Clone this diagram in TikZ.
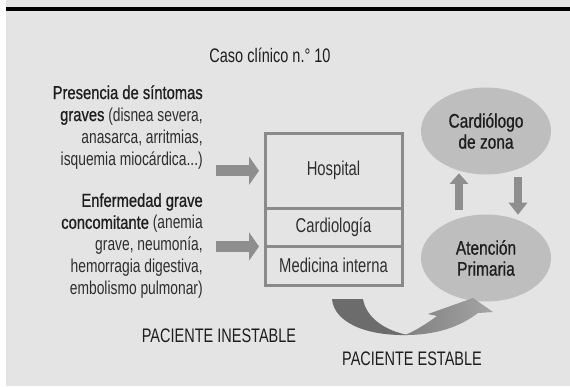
\documentclass[tikz,border=0pt]{standalone}
\usepackage{fontspec}
\setmainfont{Liberation Sans}[FakeStretch=0.74]
\newfontfamily\medfont{Liberation Sans}[FakeStretch=0.79,FakeBold=0.8]
\usepackage{tikz}
\usetikzlibrary{calc,arrows.meta,positioning,shapes.geometric}
\definecolor{bggray}{HTML}{E4E4E4}
\definecolor{linegray}{HTML}{8A8A8A}
\definecolor{ovalgray}{HTML}{BEBEBE}
\definecolor{arrowgray}{HTML}{8E8E8E}
\definecolor{tailgray}{HTML}{6C6C6C}
\definecolor{inkgray}{HTML}{1E1E1E}
\definecolor{softink}{HTML}{2E2E2E}
\tikzstyle{box node}=[draw=linegray,line width=2.25pt,outer sep=0pt,inner sep=0pt,minimum width=102.75pt,text=softink,font=\fontsize{15pt}{18pt}\selectfont]
\tikzstyle{oval node}=[ellipse,fill=ovalgray,inner sep=0pt,minimum width=97.5pt,minimum height=65.25pt,align=center,text=inkgray,font=\medfont\fontsize{14.7pt}{15.75pt}\selectfont]
\tikzstyle{side text}=[anchor=north east,align=right,inner sep=0pt,text=softink,font=\fontsize{14pt}{16.5pt}\selectfont]
\tikzstyle{label text}=[text=inkgray,font=\fontsize{14.7pt}{17pt}\selectfont]
\tikzstyle{block arrow}=[draw=arrowgray,line width=8.25pt,-{Triangle[length=7.5pt,width=21pt]}]
\tikzstyle{thin arrow}=[draw=arrowgray,line width=6pt,-{Triangle[length=8pt,width=13.5pt]}]

\begin{document}
\begin{tikzpicture}[x=0.75pt,y=-0.75pt]

		\fill[bggray] (0,0) rectangle (570,386);
		\fill[white] (0,0) rectangle (6,386);
		\useasboundingbox (0,0) rectangle (570,386);
		\draw[line width=2.6pt] (6,9) -- (570,9);

		\node(caso)[label text] at (270,55) {Caso clínico n.° 10};

		% boxes on the left of the ovals
		\node(hosp)[box node,minimum height=56.6pt] at (333.5,170.75) {Hospital};
		\node(cardio)[box node,minimum height=28.5pt,below=0pt of hosp] {Cardiología};
		\node(medint)[box node,minimum height=28.9pt,below=0pt of cardio] {Medicina interna};

		\node(cardz)[oval node] at (486,131) {Cardiólogo\\de zona};
		\node(prim)[oval node] at (486,258) {Atención\\Primaria};

		\node(sint)[side text] at (203,85) {{\color{inkgray}\medfont Presencia de síntomas}\\{\color{inkgray}\medfont graves} (disnea severa,\\anasarca, arritmias,\\isquemia miocárdica...)};
		\node(enf)[side text] at (203,193) {{\color{inkgray}\medfont Enfermedad grave}\\{\color{inkgray}\medfont concomitante} (anemia\\grave, neumonía,\\hemorragia digestiva,\\embolismo pulmonar)};

		\draw[block arrow] ($(sint.east |- hosp.west)+(13,0)$) -- ($(hosp.west)+(-6,0)$);
		\draw[block arrow] ($(enf.east |- medint.north west)+(13,0)$) -- ($(medint.north west)+(-6,0)$);

		\draw[thin arrow] ($(prim.north)+(-27,-4.5)$) -- ($(cardz.south)+(-27,-1.5)$);
		\draw[thin arrow,-{Triangle[length=9pt,width=13.5pt]}] ($(cardz.south)+(32,2.5)$) -- ($(prim.north)+(32,0.5)$);

		% curved arrow from the boxes to primaria
		\fill[tailgray] (332,299) .. controls (334,322) and (365,336) .. (408,335) .. controls (386,331) and (366,318) .. (363,299) -- cycle;
		\shade[left color=arrowgray!90!black,right color=arrowgray!80!white] (405,335) .. controls (440,335) and (462,325) .. (478,313) -- (493,312) -- (473,298) -- (428,314) -- (437,316) .. controls (426,324) and (415,331) .. (405,335) -- cycle;

		\node(inest)[label text] at (219,336) {PACIENTE INESTABLE};
		\node(est)[label text] at (412,359) {PACIENTE ESTABLE};

\end{tikzpicture}
\end{document}
